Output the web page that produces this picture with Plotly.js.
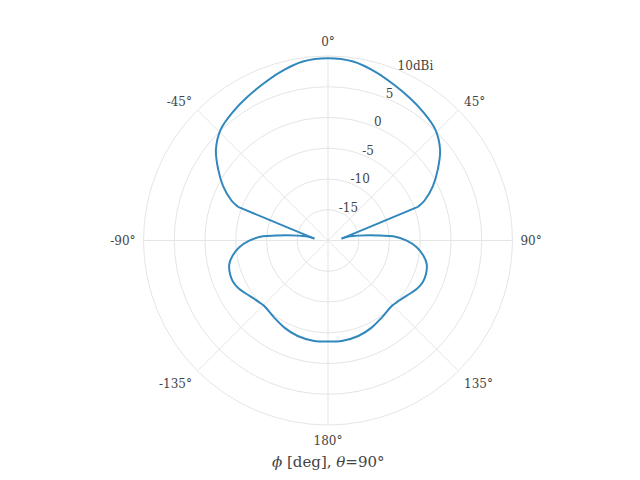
<!DOCTYPE html>
<html>
<head>
<meta charset="utf-8">
<script src="https://cdn.plot.ly/plotly-3.0.1.min.js"></script>
<style>
  html, body { margin: 0; padding: 0; background: #fff; }
  #chart { width: 640px; height: 480px; }
</style>
</head>
<body>
<div id="chart"></div>
<script>
// phi cut at theta = 90 deg, gain in dBi
// main lobe, from the left null edge over 0 deg to the right null edge
var phiSup = [-69.5, -67.5, -62.5, -57, -51, -44, -36, -30, -23, -16, -8,
              0, 8, 16, 23, 30, 36, 44, 51, 57, 62.5, 67.5, 69.5];
var gainSup = [-4.4, -3.0, -0.75, 1.3, 3.45, 5.1, 6.05, 6.7, 7.5, 8.45, 9.4,
               9.65, 9.4, 8.45, 7.5, 6.7, 6.05, 5.1, 3.45, 1.3, -0.75, -3.0, -4.4];
// back lobe, from the right null tip round 180 deg to the left null tip
var phiInf = [82.1, 79.2, 82.9, 84.6, 86.3, 90.1, 94.4, 99, 103.4, 108.9,
              113.8, 118.7, 125, 132, 135.8, 145.1, 153.4, 162.4, 172.2, 180,
              -172.2, -162.4, -153.4, -145.1, -135.8, -132, -125, -118.7, -113.8, -108.9,
              -103.4, -99, -94.4, -90.1, -86.3, -84.6, -82.9, -79.2, -82.1];
var gainInf = [-17.76, -16.36, -13.12, -11.5, -9.36, -7.2, -5.53, -4.31, -3.5, -3.16,
               -3.17, -3.56, -4.37, -4.98, -5.14, -4.72, -4.16, -3.71, -3.51, -3.56,
               -3.51, -3.71, -4.16, -4.72, -5.14, -4.98, -4.37, -3.56, -3.17, -3.16,
               -3.5, -4.31, -5.53, -7.2, -9.36, -11.5, -13.12, -16.36, -17.76];

var angTicks = [0, 45, 90, 135, 180, 225, 270, 315];
var angLabels = ['0°', '45°', '90°', '135°', '180°', '-135°', '-90°', '-45°'];
var radTicks = [-15, -10, -5, 0, 5, 10];
var radLabels = ['-15', '-10', '-5', '0', '5', '10dBi'];
var rangoR = [-20, 10];

var fuente = {family: 'DejaVu Serif', size: 12, color: '#444'};
var rejilla = '#e5e5e5';
var azul = '#3288bd';
var anguloRadial = 67.5;

function crearTraza(theta, r, forma) {
    return {
        type: 'scatterpolar',
        mode: 'lines',
        theta: theta,
        r: r,
        line: {color: azul, width: 2, shape: forma},
        connectgaps: false,
        hoverinfo: 'skip'
    };
}

var nS = phiSup.length - 1, nI = phiInf.length - 1;
// straight pieces that run from the main lobe into each null tip
var phiUnion = [phiSup[nS], phiInf[0], null, phiSup[0], phiInf[nI]];
var gainUnion = [gainSup[nS], gainInf[0], null, gainSup[0], gainInf[nI]];

var data = [
    crearTraza(phiSup, gainSup, 'spline'),
    crearTraza(phiInf, gainInf, 'spline'),
    crearTraza(phiUnion, gainUnion, 'linear'),
    // empty trace so the label-only overlay subplot gets drawn
    {type: 'scatterpolar', subplot: 'polar2', r: [], theta: [], hoverinfo: 'skip'}
];

var layout = {
    width: 640,
    height: 480,
    margin: {l: 80, r: 64, t: 46, b: 55},
    paper_bgcolor: '#fff',
    showlegend: false,
    font: fuente,
    polar: {
        domain: {x: [0, 1], y: [0, 0.97361]},
        bgcolor: '#fff',
        angularaxis: {
            rotation: 90,
            direction: 'clockwise',
            tickmode: 'array',
            tickvals: angTicks,
            ticktext: angLabels,
            ticks: 'outside',
            ticklen: 5,
            tickcolor: 'rgba(0,0,0,0)',
            showline: true,
            linecolor: rejilla,
            gridcolor: rejilla,
            tickfont: fuente
        },
        radialaxis: {
            range: rangoR,
            angle: anguloRadial,
            tickmode: 'array',
            tickvals: radTicks,
            showticklabels: false,
            ticks: '',
            showline: false,
            gridcolor: rejilla
        }
    },
    // same circle nudged up-left a few px: only its radial labels are shown,
    // so they sit just above the radial line like in the reference
    polar2: {
        domain: {x: [0, 0.97177], y: [0.02375, 0.99736]},
        bgcolor: 'rgba(0,0,0,0)',
        angularaxis: {
            rotation: 90,
            direction: 'clockwise',
            visible: false
        },
        radialaxis: {
            range: rangoR,
            angle: anguloRadial,
            // the axis group is turned by -angle, so this keeps labels level
            tickangle: anguloRadial,
            tickmode: 'array',
            tickvals: radTicks,
            ticktext: radLabels,
            ticks: '',
            showline: false,
            showgrid: false,
            tickfont: fuente
        }
    },
    annotations: [{
        text: '<i>ϕ</i> [deg], <i>θ</i>=90°',
        xref: 'paper', yref: 'paper',
        x: 0.5, y: -0.0976,
        xanchor: 'center', yanchor: 'middle',
        showarrow: false,
        font: {family: 'DejaVu Serif', size: 15, color: '#444'}
    }]
};

Plotly.newPlot('chart', data, layout, {staticPlot: true});
</script>
</body>
</html>
